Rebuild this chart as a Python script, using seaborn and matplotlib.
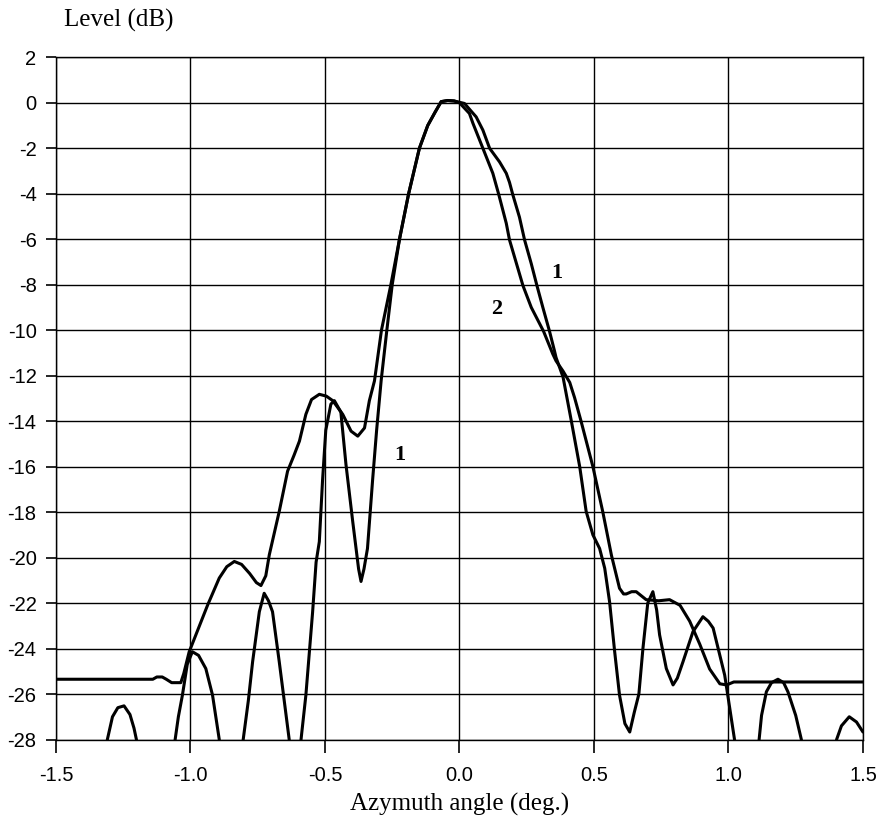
import numpy as np
import pandas as pd
import matplotlib
matplotlib.use("Agg")
import matplotlib.pyplot as plt
import seaborn as sns

# curve 1: pattern with deep nulls (values below -28 are off the axis)
angle_1 = [-1.5, -1.38, -1.309, -1.29, -1.27, -1.247, -1.225, -1.21, -1.201, -1.13,
           -1.057, -1.045, -1.03, -1.012, -0.993, -0.97, -0.943, -0.918, -0.893, -0.85,
           -0.804, -0.785, -0.769, -0.744, -0.726, -0.71, -0.695, -0.67, -0.633, -0.61,
           -0.589, -0.571, -0.546, -0.533, -0.521, -0.509, -0.497, -0.478, -0.465, -0.441,
           -0.422, -0.397, -0.375, -0.366, -0.355, -0.342, -0.323, -0.308, -0.291, -0.27,
           -0.25, -0.223, -0.189, -0.149, -0.118, -0.09, -0.068, -0.044, -0.02, 0.0186,
           0.062, 0.087, 0.112, 0.149, 0.174, 0.186, 0.198, 0.223, 0.242, 0.267,
           0.288, 0.31, 0.335, 0.353, 0.359, 0.385, 0.416, 0.447, 0.471, 0.496,
           0.521, 0.54, 0.558, 0.577, 0.595, 0.615, 0.633, 0.65, 0.667, 0.682,
           0.70, 0.719, 0.733, 0.744, 0.769, 0.794, 0.81, 0.831, 0.868, 0.905,
           0.925, 0.943, 0.968, 0.986, 1.005, 1.023, 1.07, 1.114, 1.123, 1.141,
           1.16, 1.184, 1.205, 1.221, 1.25, 1.271, 1.34, 1.402, 1.42, 1.449,
           1.476, 1.5]
level_1 = [-34, -40, -28, -27.0, -26.6, -26.52, -26.9, -27.5, -28, -40,
           -28, -27, -26.05, -24.7, -24.14, -24.3, -24.88, -26.05, -28, -40,
           -28, -26.3, -24.58, -22.38, -21.57, -21.9, -22.38, -24.58, -28, -35,
           -28, -26.05, -22.4, -20.2, -19.3, -16.6, -14.4, -13.25, -13.1, -13.6,
           -15.9, -18.4, -20.5, -21.05, -20.5, -19.6, -16.6, -14.4, -12.2, -10,
           -8, -6, -4, -2, -1, -0.4, 0.05, 0.1, 0.08, -0.03,
           -0.62, -1.2, -2.0, -2.6, -3.1, -3.5, -4.03, -5.03, -6.03, -7.08,
           -8.04, -9.0, -10.06, -10.9, -11.2, -12.06, -14.0, -16, -17.97, -19.0,
           -19.6, -20.47, -21.94, -24.14, -26.05, -27.3, -27.67, -26.8, -26, -24,
           -22, -21.5, -22.3, -23.4, -24.88, -25.6, -25.3, -24.58, -23.26, -22.6,
           -22.8, -23.1, -24.3, -25.17, -26.64, -28.04, -40, -28, -26.94, -25.9,
           -25.5, -25.35, -25.5, -25.9, -26.94, -28, -40, -28, -27.4, -27.0,
           -27.23, -27.67]

# curve 2: pattern with the flat floor near -25.4 dB
angle_2 = [-1.5, -1.14, -1.125, -1.105, -1.09, -1.07, -1.036, -1.025, -1.005, -0.97,
           -0.936, -0.893, -0.865, -0.837, -0.81, -0.78, -0.755, -0.738, -0.72, -0.707,
           -0.67, -0.639, -0.615, -0.595, -0.571, -0.55, -0.521, -0.495, -0.471, -0.434,
           -0.403, -0.378, -0.353, -0.335, -0.316, -0.29, -0.255, -0.223, -0.189, -0.149,
           -0.118, -0.09, -0.068, -0.044, -0.02, 0.0, 0.037, 0.05, 0.087, 0.124,
           0.146, 0.174, 0.186, 0.236, 0.267, 0.313, 0.347, 0.359, 0.385, 0.41,
           0.428, 0.452, 0.496, 0.533, 0.565, 0.595, 0.61, 0.62, 0.64, 0.657,
           0.694, 0.74, 0.781, 0.82, 0.856, 0.893, 0.93, 0.968, 0.993, 1.02,
           1.5]
level_2 = [-25.35, -25.35, -25.25, -25.25, -25.35, -25.5, -25.5, -25.1, -24.15, -23.1,
           -22.08, -20.9, -20.4, -20.17, -20.3, -20.7, -21.1, -21.23, -20.8, -19.88,
           -17.97, -16.2, -15.5, -14.88, -13.7, -13.05, -12.82, -12.9, -13.1, -13.7,
           -14.44, -14.66, -14.3, -13.1, -12.23, -10, -8, -6, -4, -2,
           -1, -0.4, 0.05, 0.1, 0.08, 0.0, -0.47, -0.9, -2.0, -3.1,
           -4.03, -5.3, -6.03, -8.04, -9.0, -10.06, -11.05, -11.35, -11.8, -12.3,
           -12.97, -14.0, -16, -18, -19.9, -21.35, -21.6, -21.6, -21.5, -21.5,
           -21.85, -21.9, -21.85, -22.1, -22.8, -23.8, -24.9, -25.55, -25.6, -25.47,
           -25.47]

x_ticks = [-1.5, -1.0, -0.5, 0.0, 0.5, 1.0, 1.5]
x_tick_labels = ["-1.5", "-1.0", "-0.5", "0.0", "0.5", "1.0", "1.5"]
y_ticks = list(range(-28, 3, 2))

# curve labels: (text, x, y)
curve_labels = [("1", 0.361, -7.49), ("2", 0.137, -9.07), ("1", -0.221, -15.5)]

sns.set_style("ticks")
plt.rcParams["font.family"] = ["Liberation Sans", "DejaVu Sans"]
plt.rcParams["axes.unicode_minus"] = False
plt.rcParams.update({
    "xtick.bottom": True, "ytick.left": True,
    "xtick.direction": "out", "ytick.direction": "out",
    "xtick.major.size": 9, "ytick.major.size": 7,
    "xtick.major.width": 1.2, "ytick.major.width": 1.2,
    "xtick.color": "black", "ytick.color": "black",
})

fig = plt.figure(figsize=(8.83, 8.34), dpi=100)
ax = fig.add_axes([0.0634, 0.1133, 0.9139, 0.818])

df1 = pd.DataFrame({"angle": angle_1, "level": level_1})
df2 = pd.DataFrame({"angle": angle_2, "level": level_2})
sns.lineplot(data=df1, x="angle", y="level", ax=ax, color="black", lw=2.2,
             estimator=None, sort=False)
sns.lineplot(data=df2, x="angle", y="level", ax=ax, color="black", lw=2.2,
             estimator=None, sort=False)

ax.set_xlim(-1.5, 1.5)
ax.set_ylim(-28, 2)
ax.set_xticks(x_ticks)
ax.set_xticklabels(x_tick_labels)
ax.set_yticks(y_ticks)
ax.grid(True, color="black", lw=1.0)
ax.set_axisbelow(True)
for s in ax.spines.values():
    s.set_visible(True)
    s.set_color("black")
    s.set_linewidth(1.0)
ax.tick_params(axis="x", pad=10, labelsize=14.5, labelcolor="black")
ax.tick_params(axis="y", pad=7, labelsize=14.5, labelcolor="black")

ax.set_xlabel("Azymuth angle (deg.)", family="Liberation Serif", fontsize=18,
              labelpad=6, color="black")
ax.set_ylabel("")
fig.text(0.073, 0.976, "Level (dB)", family="Liberation Serif", fontsize=18,
         ha="left", va="center", color="black")

for txt, lx, ly in curve_labels:
    ax.text(lx, ly, txt, family="Liberation Serif", fontweight="bold",
            fontsize=16, ha="center", va="center", color="black")

fig.savefig("out.png", dpi=100)
